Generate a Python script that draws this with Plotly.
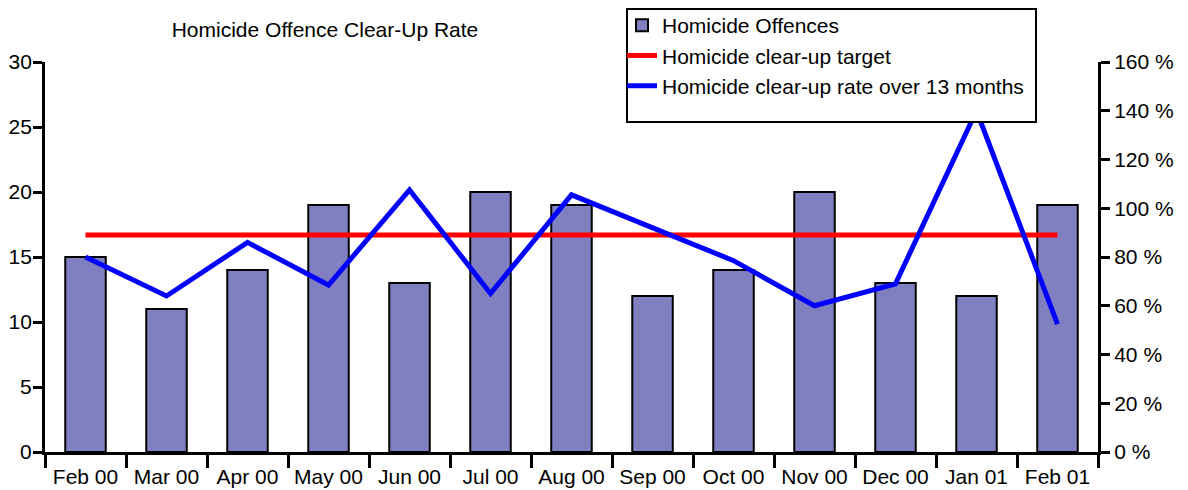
import plotly.graph_objects as go

months = ["Feb 00", "Mar 00", "Apr 00", "May 00", "Jun 00", "Jul 00", "Aug 00",
          "Sep 00", "Oct 00", "Nov 00", "Dec 00", "Jan 01", "Feb 01"]
offences = [15, 11, 14, 19, 13, 20, 19, 12, 14, 20, 13, 12, 19]
target = [89] * 13
clear_up_rate = [80, 64, 86, 68.5, 107.5, 65, 105.5, 92, 78.5, 60, 69, 140, 52.5]

FONT = "Liberation Sans, Arial, sans-serif"
FS = 21

# page body has an 8px margin; work in absolute screen pixels
OFF = 8
PL, PR, PT, PB = 45, 1098, 62, 452  # plot area in screen pixels
W, H = 1180, 482


def px(X):
    return (X - PL) / (PR - PL)


def py(Y):
    return (PB - Y) / (PB - PT)


fig = go.Figure()
fig.add_trace(go.Bar(
    x=months, y=offences, name="Homicide Offences",
    marker=dict(color="#8080C0", line=dict(color="black", width=2)),
    width=0.5,
))
fig.add_trace(go.Scatter(
    x=months, y=target, name="Homicide clear-up target", mode="lines",
    line=dict(color="#FF0000", width=5), yaxis="y2",
))
fig.add_trace(go.Scatter(
    x=months, y=clear_up_rate, name="Homicide clear-up rate over 13 months", mode="lines",
    line=dict(color="#0000FF", width=5), yaxis="y2",
))

fig.update_layout(
    width=W, height=H,
    margin=dict(l=PL - OFF, r=W + OFF - PR, t=PT - OFF, b=H + OFF - PB, autoexpand=False),
    paper_bgcolor="white", plot_bgcolor="white",
    font=dict(family=FONT, size=FS, color="black"),
    showlegend=True,
    bargap=0.5,
    title=dict(text="Homicide Offence Clear-Up Rate", x=(325 - OFF) / W, xanchor="center",
               y=1 - (30 - OFF) / H, yanchor="middle", font=dict(size=21, family=FONT)),
    legend=dict(x=px(622), xanchor="left", y=py(5), yanchor="top",
                bgcolor="rgba(0,0,0,0)", borderwidth=0,
                font=dict(size=FS, family=FONT), traceorder="normal",
                itemwidth=30, tracegroupgap=0),
    shapes=[dict(type="rect", xref="paper", yref="paper",
                 x0=px(627), x1=px(1036), y0=py(122), y1=py(9),
                 fillcolor="white", line=dict(color="black", width=2), layer="above")],
    xaxis=dict(type="category", showline=True, linecolor="black", linewidth=3,
               ticks="outside", tickson="boundaries", ticklen=13, tickwidth=3,
               tickcolor="black", showgrid=False, zeroline=False, mirror=False,
               tickfont=dict(size=FS), ticklabelstandoff=4),
    yaxis=dict(range=[0, 30], dtick=5, showline=True, linecolor="black", linewidth=3,
               ticks="outside", ticklen=9, tickwidth=3, tickcolor="black",
               showgrid=False, zeroline=False, tickfont=dict(size=FS),
               ticklabelstandoff=-3),
    yaxis2=dict(range=[0, 160], dtick=20, overlaying="y", side="right",
                ticksuffix=" %", showline=True, linecolor="black", linewidth=3,
                ticks="outside", ticklen=9, tickwidth=3, tickcolor="black",
                showgrid=False, zeroline=False, tickfont=dict(size=FS)),
)

fig.write_html("out.html")
